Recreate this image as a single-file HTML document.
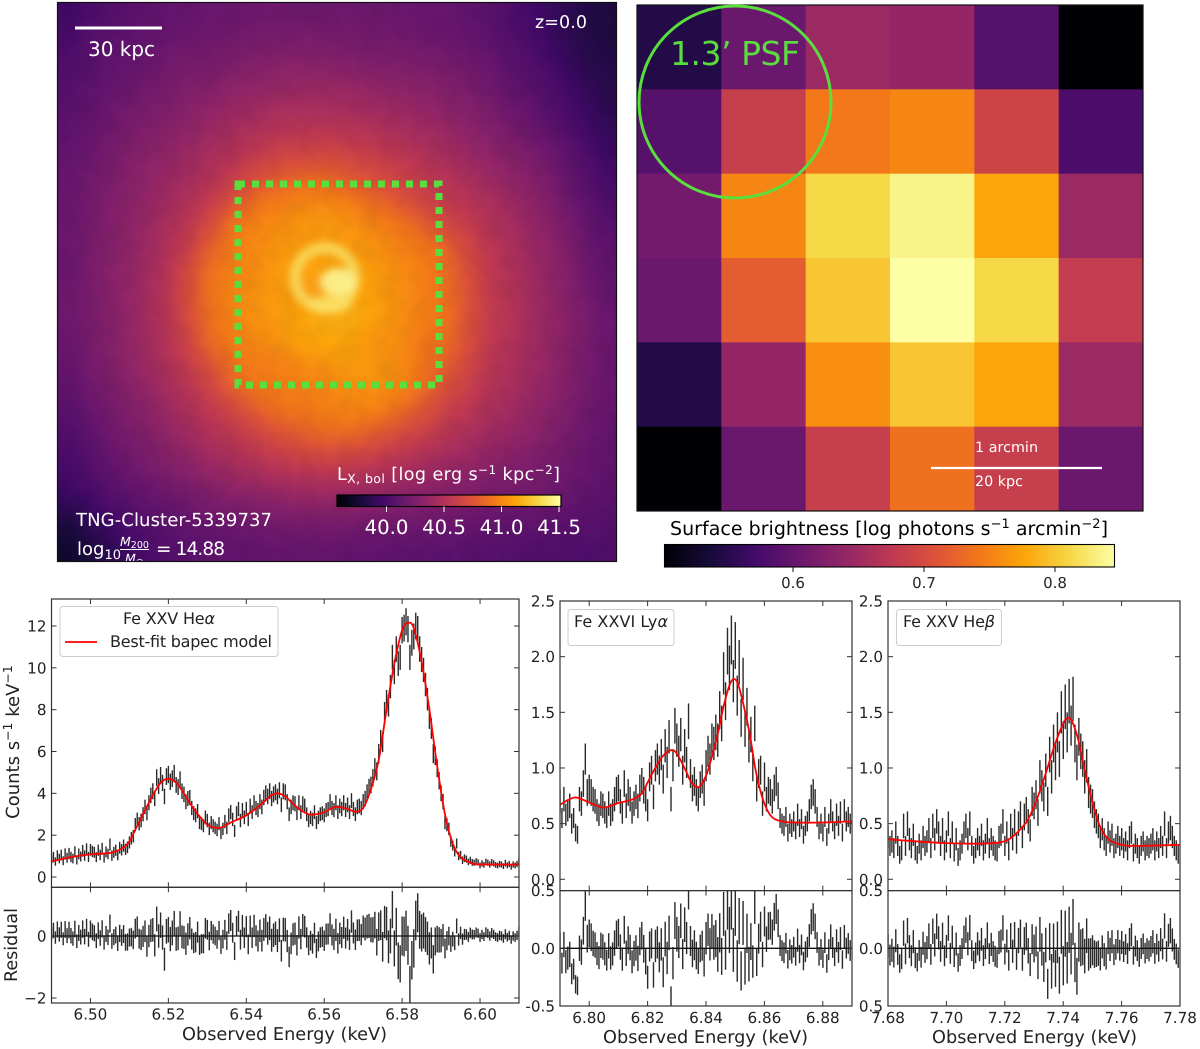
<!DOCTYPE html>
<html lang="en">
<head>
<meta charset="utf-8">
<title>TNG-Cluster X-ray maps and spectra</title>
<style>
html,body{margin:0;padding:0;background:#fff;}
#page{position:relative;width:1200px;height:1049px;overflow:hidden;background:#fff;font-family:"DejaVu Sans","Liberation Sans",sans-serif;}
#map-wrap{position:absolute;left:57px;top:2px;width:560px;height:560px;overflow:hidden;background:#6a176e;}
#map-canvas{position:absolute;left:-20px;top:-20px;width:600px;height:600px;filter:blur(5px);}
#overlay{position:absolute;left:0;top:0;}
text{font-family:"DejaVu Sans","Liberation Sans",sans-serif;text-rendering:geometricPrecision;}
</style>
</head>
<body>
<div id="page">
<div id="map-wrap"><canvas id="map-canvas" width="300" height="300"></canvas></div>
<svg id="overlay" width="1200" height="1049" viewBox="0 0 1200 1049" xmlns="http://www.w3.org/2000/svg">
<defs>
<filter id="soft" x="-30%" y="-30%" width="160%" height="160%"><feGaussianBlur stdDeviation="4"/></filter>
<filter id="mottle" x="0" y="0" width="100%" height="100%"><feTurbulence type="fractalNoise" baseFrequency="0.05" numOctaves="2" seed="4"/><feColorMatrix type="matrix" values="0 0 0 0 0  0 0 0 0 0  0 0 0 0 0  1.6 0 0 0 -0.55"/></filter>
<clipPath id="clip-map"><rect x="57" y="2" width="560" height="560"/></clipPath>
<linearGradient id="inferno-a" x1="0" x2="1" y1="0" y2="0"></linearGradient>
<linearGradient id="inferno-b" x1="0" x2="1" y1="0" y2="0"></linearGradient>
</defs>

<rect x="57" y="2" width="560" height="560" filter="url(#mottle)" opacity="0.06"/>
<g id="core" filter="url(#soft)">
<circle cx="325" cy="278" r="30" fill="none" stroke="#f8de60" stroke-width="11" opacity="0.85"/>
<ellipse cx="338" cy="282" rx="18" ry="14" fill="#fbf08e" opacity="0.95"/>
<ellipse cx="330" cy="304" rx="22" ry="9" fill="#f9e46c" opacity="0.75"/>
<ellipse cx="311" cy="283" rx="10" ry="14" fill="#f99f10" opacity="0.55"/>
</g>

<rect x="238" y="184" width="201" height="201" fill="none" stroke="#5ade3d" stroke-width="7" stroke-dasharray="7 7"/>
<line x1="75" y1="28" x2="162" y2="28" stroke="#fff" stroke-width="3"/>
<text x="88" y="56" fill="#fff" font-size="20" textLength="67">30 kpc</text>
<text x="535" y="28" fill="#fff" font-size="17.5" textLength="52">z=0.0</text>
<text x="76" y="526" fill="#fff" font-size="18" textLength="196">TNG-Cluster-5339737</text>
<g clip-path="url(#clip-map)" fill="#fff">
<text x="77" y="555" font-size="18">log<tspan font-size="13" dy="4">10</tspan></text>
<text x="120" y="546" font-size="12.5" font-style="italic">M<tspan font-size="9.5" font-style="normal" dy="2">200</tspan></text>
<line x1="120" y1="549.5" x2="149" y2="549.5" stroke="#fff" stroke-width="1"/>
<text x="125" y="563" font-size="12.5" font-style="italic">M<tspan font-size="9.5" font-style="normal" dy="2">⊙</tspan></text>
<text x="156" y="555" font-size="18.5" textLength="69">= 14.88</text>
</g>
<text x="337" y="480" fill="#fff" font-size="17.5" textLength="223">L<tspan font-size="12.5" dy="3">X, bol</tspan><tspan dy="-3"> [log  erg s</tspan><tspan font-size="12" dy="-6">−1</tspan><tspan dy="6"> kpc</tspan><tspan font-size="12" dy="-6">−2</tspan><tspan dy="6">]</tspan></text>
<rect x="337" y="495" width="224" height="11.5" fill="url(#inferno-a)" stroke="#000" stroke-width="1.2"/>
<rect x="57.5" y="2.5" width="559" height="559" fill="none" stroke="#111" stroke-width="1.2"/>

<g id="psf-map"></g>
<rect x="637" y="5" width="506" height="506" fill="none" stroke="#111" stroke-width="1.2"/>
<circle cx="735" cy="102" r="96" fill="none" stroke="#5ade3d" stroke-width="3"/>
<text x="670" y="65" fill="#5ade3d" font-size="33" textLength="130">1.3’ PSF</text>
<line x1="931" y1="468" x2="1102" y2="468" stroke="#fff" stroke-width="2.2"/>
<text x="975" y="452" fill="#fff" font-size="14.3" textLength="63">1 arcmin</text>
<text x="975" y="486" fill="#fff" font-size="14.3" textLength="48">20 kpc</text>
<text x="670" y="535" fill="#000" font-size="19" textLength="438">Surface brightness [log  photons s<tspan font-size="13" dy="-7">−1</tspan><tspan dy="7"> arcmin</tspan><tspan font-size="13" dy="-7">−2</tspan><tspan dy="7">]</tspan></text>
<rect x="664.5" y="544.5" width="450" height="22.5" fill="url(#inferno-b)" stroke="#000" stroke-width="1.1"/>

<g id="colorbar-ticks"></g>
<g id="spectra"></g>

<text transform="translate(19,742) rotate(-90)" text-anchor="middle" font-size="18" fill="#222">Counts s<tspan font-size="12.5" dy="-7">−1</tspan><tspan dy="7"> keV</tspan><tspan font-size="12.5" dy="-7">−1</tspan></text>
<text transform="translate(17,945) rotate(-90)" text-anchor="middle" font-size="17.5" fill="#222">Residual</text>
<text x="182" y="1040" font-size="17.7" fill="#222" textLength="205">Observed Energy (keV)</text>
<text x="603" y="1043" font-size="17.7" fill="#222" textLength="205">Observed Energy (keV)</text>
<text x="932" y="1043" font-size="17.7" fill="#222" textLength="205">Observed Energy (keV)</text>

<g>
<rect x="60" y="606.5" width="218" height="50" rx="3" fill="#fff" fill-opacity="0.85" stroke="#ccc"/>
<text x="123" y="624" font-size="16" fill="#222" textLength="92">Fe XXV He<tspan font-style="italic">α</tspan></text>
<line x1="65" y1="642" x2="97" y2="642" stroke="#f00" stroke-width="1.8"/>
<text x="110" y="647" font-size="16" fill="#222" textLength="162">Best-fit bapec model</text>
</g>
<g>
<rect x="568" y="609.5" width="106" height="36" rx="3" fill="#fff" fill-opacity="0.85" stroke="#ccc"/>
<text x="574" y="627" font-size="16" fill="#222" textLength="94">Fe XXVI Ly<tspan font-style="italic">α</tspan></text>
</g>
<g>
<rect x="896.5" y="609.5" width="105" height="36" rx="3" fill="#fff" fill-opacity="0.85" stroke="#ccc"/>
<text x="903" y="627" font-size="16" fill="#222" textLength="92">Fe XXV He<tspan font-style="italic">β</tspan></text>
</g>
</svg>
</div>

<script>
// ---------- colour map ----------
const infernoStops = ["#000004","#160b39","#420a68","#6a176e","#932667","#bc3754","#dd513a","#f37819","#fca50a","#f6d746","#fcffa4"];

// ---------- left map: percentage position on the colour scale, 24 x 24 ----------
const luminosityGrid = [
[20,23,25,27,28,29,30,30,31,31,31,31,31,31,30,30,29,28,26,23,20,17,13,12],
[22,25,27,28,29,31,31,32,33,33,34,33,33,32,32,31,30,29,27,24,21,17,14,12],
[23,26,28,29,31,33,33,35,36,37,37,37,36,35,35,34,33,31,29,26,23,19,15,13],
[25,27,29,31,33,35,36,38,39,40,41,41,40,39,38,37,36,34,31,28,25,22,17,14],
[26,28,31,33,35,37,39,41,43,45,45,45,45,43,42,40,38,36,34,30,27,23,19,15],
[27,30,32,35,37,39,42,45,47,49,50,50,49,48,46,44,42,39,36,33,30,26,21,17],
[28,31,34,37,39,42,45,48,52,55,56,57,55,53,51,48,45,42,39,36,33,29,24,19],
[29,32,35,38,41,44,48,53,59,63,66,66,62,59,55,52,49,46,42,39,36,31,26,21],
[30,33,36,39,43,47,52,60,68,71,73,73,71,67,62,57,52,49,46,42,38,33,28,23],
[30,33,37,40,45,50,58,69,73,75,77,78,76,73,70,65,58,53,48,44,40,35,30,25],
[30,34,37,41,46,53,64,71,74,77,78,78,78,76,73,71,66,57,50,46,41,37,31,27],
[30,34,38,42,47,57,68,72,75,78,80,80,80,78,75,72,68,60,51,47,42,38,32,28],
[31,34,38,42,48,58,69,73,76,78,78,78,80,79,76,72,69,61,52,48,43,38,33,29],
[31,34,38,42,48,57,68,73,76,78,80,82,82,79,76,72,69,61,52,48,43,39,34,30],
[30,34,37,42,47,55,66,71,74,76,80,80,80,76,75,71,68,60,51,47,43,38,34,30],
[29,33,37,41,46,52,60,69,71,72,74,76,78,77,75,70,65,57,50,46,42,38,33,30],
[28,32,35,39,44,49,55,64,70,71,72,73,75,76,74,68,60,54,48,45,41,37,33,30],
[26,30,34,37,41,46,51,56,63,68,70,72,73,72,68,62,55,50,46,43,39,36,32,29],
[24,28,32,35,39,43,47,51,55,60,63,66,66,63,58,54,50,46,43,40,38,34,31,28],
[22,26,30,33,36,39,43,46,49,52,55,56,55,53,50,47,44,42,39,37,35,33,30,28],
[20,24,27,30,33,35,38,41,43,45,46,47,46,45,43,41,39,37,35,34,33,31,29,27],
[16,20,24,27,29,31,33,35,36,37,39,39,38,37,36,35,34,33,31,31,30,29,27,26],
[11,16,20,24,26,28,29,30,31,32,32,32,32,31,31,30,30,29,28,27,27,26,25,25],
[8,12,17,21,24,26,27,28,28,29,29,29,28,28,27,27,26,26,25,25,24,24,23,24]
];

// ---------- right map: log surface brightness, 6 x 6 ----------
const brightnessGrid = [
[0.546,0.605,0.646,0.640,0.588,0.502],
[0.588,0.684,0.743,0.753,0.691,0.578],
[0.612,0.753,0.812,0.836,0.777,0.646],
[0.605,0.719,0.800,0.846,0.812,0.681],
[0.546,0.640,0.760,0.800,0.777,0.646],
[0.502,0.605,0.684,0.736,0.684,0.605]
];
const brightnessDomain = [0.5015,0.846];
const brightnessTicks = [0.6,0.7,0.8];
const luminosityTicks = [40.0,40.5,41.0,41.5];

// ---------- Fe XXV He-alpha ----------
const heAlphaBin = {start:6.49,width:0.0005};
const heAlphaCounts = [
.82,.95,.74,1.02,.88,1.05,.78,1.1,.92,1.12,
.96,.88,1.2,.82,1.1,.98,1.25,1.02,1.33,.96,
1.3,1.22,1.18,.95,1.28,1.05,1.35,.92,1.2,1.1,
1.55,1.02,1.18,1.28,1.05,1.4,1.3,1.5,1.32,1.42,
1.65,1.85,1.95,2.5,2.75,2.55,2.7,3.0,3.35,3.05,
3.55,3.9,4.1,3.75,4.75,4.35,4.85,4.5,3.85,4.8,
4.9,4.55,4.7,4.95,4.4,4.3,4.65,4.1,3.95,3.6,
3.75,3.8,3.3,3.05,2.95,3.15,2.6,2.55,2.45,2.85,
2.7,2.3,2.6,2.45,2.35,2.25,2.55,2.1,2.3,2.65,
2.35,2.95,3.1,2.75,2.2,3.05,3.25,2.7,3.2,2.85,
3.25,2.75,3.4,3.1,3.55,3.3,3.2,3.6,3.35,3.8,
4.0,3.85,4.1,3.75,3.95,4.05,3.85,4.15,3.45,4.1,
4.05,3.6,3.0,3.35,3.55,3.5,3.05,3.55,3.1,3.5,
3.4,3.0,2.7,2.85,2.75,3.1,2.6,2.85,3.0,3.05,
2.95,3.2,3.25,3.6,3.3,3.2,3.55,3.1,3.4,3.25,
3.55,3.2,3.45,3.1,3.65,3.25,3.0,3.35,3.4,3.3,
3.6,3.75,4.05,4.3,4.4,4.75,5.25,5.05,5.9,6.55,
6.45,7.85,8.4,8.2,9.1,10.5,9.8,10.9,10.2,10.5,
11.8,11.9,12.2,11.85,10.5,11.2,11.5,12.0,11.85,10.9,
10.4,9.9,9.2,8.5,7.6,7.1,5.9,5.8,5.2,4.6,
4.0,3.6,2.6,2.5,2.3,1.7,1.5,1.2,1.6,1.0,
1.05,.8,.9,.85,.72,.8,.7,.68,.74,.7,
.55,.65,.58,.72,.68,.6,.7,.65,.58,.55,
.62,.6,.52,.66,.56,.62,.48,.6,.55,.62,.75
];
const heAlphaErrors = [
.22,.25,.2,.26,.23,.26,.21,.27,.24,.27,
.25,.23,.27,.22,.26,.24,.28,.25,.28,.24,
.28,.27,.26,.24,.27,.25,.28,.23,.26,.25,
.29,.25,.26,.27,.25,.28,.27,.29,.27,.28,
.29,.3,.3,.32,.33,.32,.33,.34,.35,.34,
.36,.37,.38,.36,.4,.38,.41,.39,.37,.4,
.41,.39,.4,.41,.38,.38,.4,.37,.37,.36,
.36,.36,.34,.33,.33,.34,.31,.31,.31,.33,
.32,.3,.31,.31,.3,.3,.31,.29,.3,.32,
.3,.33,.34,.32,.29,.33,.34,.32,.34,.33,
.34,.32,.35,.33,.36,.34,.34,.36,.35,.37,
.38,.37,.38,.37,.38,.38,.37,.38,.35,.38,
.38,.36,.33,.35,.36,.36,.33,.36,.33,.36,
.35,.33,.32,.32,.32,.33,.31,.32,.33,.33,
.33,.34,.34,.36,.34,.34,.36,.33,.35,.34,
.36,.34,.35,.33,.36,.34,.33,.35,.35,.34,
.36,.37,.38,.39,.4,.41,.43,.43,.46,.48,
.48,.52,.54,.53,.56,.6,.58,.61,.59,.6,
.63,.64,.65,.63,.6,.62,.62,.64,.63,.61,
.6,.58,.56,.54,.52,.5,.46,.45,.43,.41,
.38,.36,.32,.31,.3,.26,.24,.22,.24,.2,
.2,.18,.18,.17,.16,.17,.16,.15,.16,.15,
.14,.15,.14,.16,.15,.15,.16,.15,.14,.14,
.15,.15,.14,.16,.14,.15,.13,.15,.14,.15,.17
];
const heAlphaModelEnergy = [6.49,6.495,6.5,6.505,6.508,6.51,6.512,6.514,6.516,6.518,6.52,6.522,6.524,6.526,6.528,6.53,6.532,6.534,6.536,6.54,6.544,6.546,6.548,6.55,6.552,6.554,6.556,6.558,6.56,6.563,6.566,6.568,6.57,6.572,6.574,6.576,6.578,6.58,6.5815,6.583,6.585,6.587,6.589,6.591,6.593,6.595,6.598,6.6,6.61];
const heAlphaModelCounts = [.75,.95,1.08,1.15,1.35,1.7,2.45,3.2,3.9,4.5,4.7,4.5,4.0,3.4,2.9,2.5,2.35,2.4,2.6,2.95,3.5,3.85,4.0,3.85,3.5,3.2,3.0,3.0,3.1,3.35,3.25,3.12,3.3,4.2,5.6,8.0,10.2,11.8,12.15,11.9,10.3,8.0,5.3,3.0,1.6,.95,.65,.6,.6];
const heAlphaEnergyTicks = [6.50,6.52,6.54,6.56,6.58,6.60];
const heAlphaEnergyLabels = ["6.50","6.52","6.54","6.56","6.58","6.60"];
const heAlphaCountTicks = [0,2,4,6,8,10,12];
const heAlphaCountLabels = ["0","2","4","6","8","10","12"];
const heAlphaResidualTicks = [-2,0];
const heAlphaResidualLabels = ["−2","0"];

// ---------- Fe XXVI Ly-alpha ----------
const lyAlphaBin = {start:6.79,width:0.000667};
const lyAlphaCounts = [
.70,.55,.72,.58,.62,.66,.50,.55,.42,.40,.72,.68,.86,1.08,.78,
.82,.78,.72,.70,.62,.58,.68,.66,.60,.55,.68,.58,.62,.72,.80,
.82,.70,.60,.86,.66,.78,.72,.60,.68,.74,.66,.82,.88,.80,.72,
.62,.92,.98,.74,1.02,1.08,.98,1.12,.90,1.20,1.05,1.28,.72,1.02,1.38,
1.25,1.15,1.30,.98,1.20,1.05,1.42,.95,.82,.88,.78,.72,.85,.90,.78,
1.02,1.15,1.08,1.25,1.22,1.32,1.25,1.52,1.40,1.85,1.60,2.05,1.90,2.15,1.78,
2.10,1.65,1.95,1.45,1.80,1.35,1.55,1.20,1.30,1.02,1.40,.82,.95,.98,.68,
.92,.72,.80,.78,.70,.82,.88,.75,.55,.50,.48,.56,.42,.50,.46,
.52,.44,.58,.46,.54,.40,.48,.52,.62,.74,.78,.70,.56,.44,.50,
.42,.56,.38,.50,.62,.52,.44,.58,.48,.60,.42,.62,.52,.56,.50,.54
];
const lyAlphaErrors = [
.11,.09,.11,.1,.1,.11,.09,.09,.08,.08,.11,.11,.12,.14,.12,
.12,.12,.11,.11,.1,.1,.11,.11,.1,.09,.11,.1,.1,.11,.12,
.12,.11,.1,.12,.11,.12,.11,.1,.11,.11,.11,.12,.12,.12,.11,
.1,.13,.13,.11,.14,.14,.13,.14,.13,.15,.14,.15,.11,.14,.16,
.15,.14,.15,.13,.15,.14,.16,.13,.12,.13,.12,.11,.12,.13,.12,
.14,.14,.14,.15,.15,.16,.15,.17,.16,.19,.17,.21,.2,.22,.19,
.21,.18,.2,.17,.19,.16,.17,.15,.16,.14,.16,.12,.13,.13,.11,
.13,.11,.12,.12,.11,.12,.13,.12,.09,.09,.09,.09,.08,.09,.08,
.09,.08,.1,.08,.09,.08,.09,.09,.1,.11,.12,.11,.09,.08,.09,
.08,.09,.08,.09,.1,.09,.08,.1,.09,.1,.08,.1,.09,.09,.09,.09
];
const lyAlphaModelEnergy = [6.79,6.795,6.8,6.805,6.81,6.815,6.818,6.82,6.822,6.825,6.828,6.83,6.833,6.835,6.8375,6.84,6.842,6.844,6.846,6.848,6.8495,6.851,6.853,6.855,6.857,6.859,6.861,6.863,6.866,6.87,6.88,6.89];
const lyAlphaModelCounts = [.67,.735,.69,.645,.685,.72,.77,.87,.97,1.10,1.16,1.13,.98,.87,.83,.93,1.1,1.3,1.55,1.74,1.80,1.75,1.55,1.3,.98,.76,.62,.55,.52,.51,.51,.52];
const lyAlphaEnergyTicks = [6.80,6.82,6.84,6.86,6.88];
const lyAlphaEnergyLabels = ["6.80","6.82","6.84","6.86","6.88"];
const lyAlphaCountTicks = [0,.5,1,1.5,2,2.5];
const lyAlphaCountLabels = ["0.0","0.5","1.0","1.5","2.0","2.5"];
const lyAlphaResidualTicks = [-.5,0,.5];
const lyAlphaResidualLabels = ["-0.5","0.0","0.5"];

// ---------- Fe XXV He-beta ----------
const heBetaBin = {start:7.68,width:0.000667};
const heBetaCounts = [
.38,.30,.34,.28,.42,.30,.22,.26,.48,.30,.50,.36,.28,.40,.26,
.22,.32,.26,.38,.30,.34,.44,.28,.48,.36,.52,.42,.30,.44,.26,
.34,.50,.28,.42,.24,.36,.20,.26,.32,.42,.48,.36,.50,.30,.22,
.28,.36,.30,.40,.26,.32,.44,.28,.36,.30,.26,.24,.38,.40,.52,
.30,.42,.26,.48,.36,.52,.32,.50,.58,.38,.56,.62,.52,.44,.70,
.66,.76,.60,.92,.84,.74,.98,.70,1.12,.92,1.22,1.05,1.32,1.08,1.50,
1.25,1.55,1.32,1.60,1.38,1.62,1.22,1.05,1.28,1.15,1.08,.92,1.02,.78,.72,
.68,.58,.52,.48,.38,.45,.36,.30,.42,.34,.40,.28,.32,.38,.30,
.36,.28,.34,.26,.38,.42,.24,.32,.28,.22,.30,.34,.26,.30,.28,
.32,.36,.26,.34,.28,.38,.30,.50,.28,.42,.46,.38,.30,.26,.22,.20
];
const heBetaErrors = [
.1,.09,.1,.09,.1,.09,.08,.09,.11,.09,.11,.1,.09,.1,.09,
.08,.09,.09,.1,.09,.1,.11,.09,.11,.1,.11,.1,.09,.11,.09,
.1,.11,.09,.1,.08,.1,.08,.09,.09,.1,.11,.1,.11,.09,.08,
.09,.1,.09,.1,.09,.09,.11,.09,.1,.09,.09,.08,.1,.1,.11,
.09,.1,.09,.11,.1,.11,.09,.11,.12,.1,.12,.12,.11,.1,.13,
.12,.13,.12,.15,.14,.13,.15,.13,.16,.15,.17,.16,.18,.16,.19,
.17,.2,.18,.2,.18,.2,.17,.16,.17,.16,.16,.15,.15,.14,.13,
.13,.12,.11,.11,.1,.1,.1,.09,.1,.1,.1,.09,.09,.1,.09,
.1,.09,.09,.09,.1,.1,.08,.09,.09,.08,.09,.09,.09,.09,.09,
.09,.1,.09,.09,.09,.1,.09,.11,.09,.1,.11,.1,.09,.09,.08,.08
];
const heBetaModelEnergy = [7.68,7.685,7.69,7.70,7.71,7.718,7.722,7.725,7.728,7.731,7.734,7.737,7.74,7.7415,7.743,7.745,7.747,7.749,7.751,7.753,7.756,7.76,7.765,7.78];
const heBetaModelCounts = [.36,.35,.34,.325,.32,.33,.37,.44,.54,.72,.95,1.2,1.4,1.45,1.42,1.27,1.03,.8,.6,.45,.35,.31,.3,.31];
const heBetaEnergyTicks = [7.68,7.70,7.72,7.74,7.76,7.78];
const heBetaEnergyLabels = ["7.68","7.70","7.72","7.74","7.76","7.78"];
const heBetaCountTicks = [0,.5,1,1.5,2,2.5];
const heBetaCountLabels = ["0.0","0.5","1.0","1.5","2.0","2.5"];
const heBetaResidualTicks = [-.5,0,.5];
const heBetaResidualLabels = ["0.5","0.0","0.5"];

// ---------- helpers ----------
const SVGNS = "http://www.w3.org/2000/svg";
function linear(d0,d1,r0,r1){return function(v){return r0+(v-d0)*(r1-r0)/(d1-d0);};}
function hexRgb(h){return [parseInt(h.slice(1,3),16),parseInt(h.slice(3,5),16),parseInt(h.slice(5,7),16)];}
function inferno(t){
  t=Math.max(0,Math.min(1,t));
  const p=t*(infernoStops.length-1),i=Math.min(infernoStops.length-2,Math.floor(p)),f=p-i;
  const a=hexRgb(infernoStops[i]),b=hexRgb(infernoStops[i+1]);
  return [0,1,2].map(function(k){return Math.round(a[k]+(b[k]-a[k])*f);});
}
function rgb(c){return "rgb("+c[0]+","+c[1]+","+c[2]+")";}
function make(tag,parent){const el=document.createElementNS(SVGNS,tag);parent.appendChild(el);return el;}
function interp(xs,ys,x){
  if(x<=xs[0])return ys[0];
  for(let i=1;i<xs.length;i++){if(x<=xs[i]){const f=(x-xs[i-1])/(xs[i]-xs[i-1]);return ys[i-1]+(ys[i]-ys[i-1])*f;}}
  return ys[ys.length-1];
}

// ---------- colourbar gradients ----------
["inferno-a","inferno-b"].forEach(function(id){
  const g=document.getElementById(id);
  infernoStops.forEach(function(c,i){
    const s=document.createElementNS(SVGNS,"stop");
    s.setAttribute("offset",(i/(infernoStops.length-1)*100)+"%");
    s.setAttribute("stop-color",c);
    g.appendChild(s);
  });
});

// ---------- left map ----------
(function(){
  const cv=document.getElementById("map-canvas"),ctx=cv.getContext("2d");
  const size=cv.width,img=ctx.createImageData(size,size),n=luminosityGrid.length;
  const inner=280,offset=(size-inner)/2;
  for(let y=0;y<size;y++){for(let x=0;x<size;x++){
    const gx=Math.max(0,Math.min(n-1.001,(x-offset)/inner*n-.5));
    const gy=Math.max(0,Math.min(n-1.001,(y-offset)/inner*n-.5));
    const i=Math.floor(gx),j=Math.floor(gy),fx=gx-i,fy=gy-j;
    const v=(luminosityGrid[j][i]*(1-fx)+luminosityGrid[j][i+1]*fx)*(1-fy)+(luminosityGrid[j+1][i]*(1-fx)+luminosityGrid[j+1][i+1]*fx)*fy;
    const c=inferno(v/100),k=(y*size+x)*4;
    img.data[k]=c[0];img.data[k+1]=c[1];img.data[k+2]=c[2];img.data[k+3]=255;
  }}
  ctx.putImageData(img,0,0);
})();

// ---------- right map ----------
(function(){
  const g=document.getElementById("psf-map");
  const colX=linear(0,6,637,1143),rowY=linear(0,6,5,511);
  const toT=linear(brightnessDomain[0],brightnessDomain[1],0,1);
  brightnessGrid.forEach(function(row,r){
    row.forEach(function(v,c){
      const cell=make("rect",g);
      cell.setAttribute("x",colX(c));
      cell.setAttribute("y",rowY(r));
      cell.setAttribute("width",colX(c+1)-colX(c)+.3);
      cell.setAttribute("height",rowY(r+1)-rowY(r)+.3);
      cell.setAttribute("fill",rgb(inferno(toT(v))));
      
      
    });
  });
})();

// ---------- colourbar ticks ----------
(function(){
  const g=document.getElementById("colorbar-ticks");
  const ax=linear(40,41.5,386.5,559),bx=linear(.6,.8,793,1055);
  luminosityTicks.forEach(function(v){
    const t=make("line",g);
    t.setAttribute("x1",ax(v));t.setAttribute("x2",ax(v));t.setAttribute("y1",506.5);t.setAttribute("y2",512);
    t.setAttribute("stroke","#fff");t.setAttribute("stroke-width",1);
    
    
    const l=make("text",g);
    l.setAttribute("x",ax(v));l.setAttribute("y",534);l.setAttribute("text-anchor","middle");
    l.setAttribute("font-size",19.7);l.setAttribute("fill","#fff");
    l.textContent=v.toFixed(1);
    
    
  });
  brightnessTicks.forEach(function(v){
    const t=make("line",g);
    t.setAttribute("x1",bx(v));t.setAttribute("x2",bx(v));t.setAttribute("y1",567);t.setAttribute("y2",572);
    t.setAttribute("stroke","#111");t.setAttribute("stroke-width",1);
    
    
    const l=make("text",g);
    l.setAttribute("x",bx(v));l.setAttribute("y",588);l.setAttribute("text-anchor","middle");
    l.setAttribute("font-size",15);l.setAttribute("fill","#222");
    l.textContent=v.toFixed(1);
    
    
  });
})();

// ---------- spectra ----------
function drawSpectrum(cfg){
  const root=make("g",document.getElementById("spectra"));
  
  
  const x=linear(cfg.xDomain[0],cfg.xDomain[1],cfg.left,cfg.right);
  const y=linear(cfg.yAnchor[0],cfg.yAnchor[1],cfg.yAnchorPx[0],cfg.yAnchorPx[1]);
  const r=linear(cfg.rAnchor[0],cfg.rAnchor[1],cfg.rAnchorPx[0],cfg.rAnchorPx[1]);
  const defs=make("defs",root);
  [["main",cfg.top,cfg.mid],["res",cfg.mid,cfg.bottom]].forEach(function(c){
    const cp=make("clipPath",defs);
    cp.setAttribute("id",cfg.id+"-clip-"+c[0]);
    const re=make("rect",cp);
    re.setAttribute("x",cfg.left);re.setAttribute("y",c[1]);
    re.setAttribute("width",cfg.right-cfg.left);re.setAttribute("height",c[2]-c[1]);
  });
  const mainG=make("g",root);
  mainG.setAttribute("clip-path","url(#"+cfg.id+"-clip-main)");
  
  
  const resG=make("g",root);
  resG.setAttribute("clip-path","url(#"+cfg.id+"-clip-res)");
  
  

  cfg.counts.forEach(function(v,i){
    const e=cfg.bin.start+i*cfg.bin.width,err=cfg.errors[i];
    const bar=make("line",mainG);
    bar.setAttribute("x1",x(e));bar.setAttribute("x2",x(e));
    bar.setAttribute("y1",y(v-err));bar.setAttribute("y2",y(v+err));
    bar.setAttribute("stroke","#2a2a2a");bar.setAttribute("stroke-width",1.4);
    
    
    const res=v-interp(cfg.modelE,cfg.modelC,e);
    const rb=make("line",resG);
    rb.setAttribute("x1",x(e));rb.setAttribute("x2",x(e));
    rb.setAttribute("y1",r(res-err));rb.setAttribute("y2",r(res+err));
    rb.setAttribute("stroke","#2a2a2a");rb.setAttribute("stroke-width",1.4);
    
    
  });

  // model curve
  const px=cfg.modelE.map(function(e){return x(e);}),py=cfg.modelC.map(function(c){return y(c);});
  let d="M"+px[0]+" "+py[0];
  for(let i=0;i<px.length-1;i++){
    const a=Math.max(0,i-1),b=Math.min(px.length-1,i+2);
    const c1x=px[i]+(px[i+1]-px[a])/6,c1y=py[i]+(py[i+1]-py[a])/6;
    const c2x=px[i+1]-(px[b]-px[i])/6,c2y=py[i+1]-(py[b]-py[i])/6;
    d+=" C"+c1x+" "+c1y+" "+c2x+" "+c2y+" "+px[i+1]+" "+py[i+1];
  }
  const curve=make("path",mainG);
  curve.setAttribute("d",d);curve.setAttribute("fill","none");
  curve.setAttribute("stroke","#f00");curve.setAttribute("stroke-width",1.8);
  
  

  // zero line
  const zero=make("line",root);
  zero.setAttribute("x1",cfg.left);zero.setAttribute("x2",cfg.right);
  zero.setAttribute("y1",r(0));zero.setAttribute("y2",r(0));
  zero.setAttribute("stroke","#111");zero.setAttribute("stroke-width",1.3);
  
  

  // frames
  [[cfg.top,cfg.mid],[cfg.mid,cfg.bottom]].forEach(function(f){
    const fr=make("rect",root);
    fr.setAttribute("x",cfg.left);fr.setAttribute("y",f[0]);
    fr.setAttribute("width",cfg.right-cfg.left);fr.setAttribute("height",f[1]-f[0]);
    fr.setAttribute("fill","none");fr.setAttribute("stroke","#333");fr.setAttribute("stroke-width",1.2);
    
    
  });

  // x ticks
  cfg.xTicks.forEach(function(v,i){
    [[cfg.top,cfg.top+5],[cfg.mid-5,cfg.mid],[cfg.mid,cfg.mid+5],[cfg.bottom-5,cfg.bottom]].forEach(function(s){
      const t=make("line",root);
      t.setAttribute("x1",x(v));t.setAttribute("x2",x(v));t.setAttribute("y1",s[0]);t.setAttribute("y2",s[1]);
      t.setAttribute("stroke","#333");t.setAttribute("stroke-width",1);
      
      
    });
    const l=make("text",root);
    l.setAttribute("x",x(v));l.setAttribute("y",cfg.bottom+cfg.xLabelGap);l.setAttribute("text-anchor","middle");
    l.setAttribute("font-size",15.2);l.setAttribute("fill","#222");
    l.textContent=cfg.xLabels[i];
    
    
  });

  // y ticks
  function yTicks(vals,labels,scale){
    vals.forEach(function(v,i){
      [[cfg.left,cfg.left+5],[cfg.right-5,cfg.right]].forEach(function(s){
        const t=make("line",root);
        t.setAttribute("x1",s[0]);t.setAttribute("x2",s[1]);t.setAttribute("y1",scale(v));t.setAttribute("y2",scale(v));
        t.setAttribute("stroke","#333");t.setAttribute("stroke-width",1);
        
        
      });
      const l=make("text",root);
      l.setAttribute("x",cfg.left-5);l.setAttribute("y",scale(v)+5.5);l.setAttribute("text-anchor","end");
      l.setAttribute("font-size",15.2);l.setAttribute("fill","#222");
      l.textContent=labels[i];
      
      
    });
  }
  yTicks(cfg.yTicks,cfg.yLabels,y);
  yTicks(cfg.rTicks,cfg.rLabels,r);
}

drawSpectrum({id:"he-alpha",left:51.5,right:519,top:599,mid:887.3,bottom:1003,xLabelGap:16.5,
  xDomain:[6.49,6.61],yAnchor:[0,12],yAnchorPx:[877,626],rAnchor:[0,-2],rAnchorPx:[936,998],
  bin:heAlphaBin,counts:heAlphaCounts,errors:heAlphaErrors,modelE:heAlphaModelEnergy,modelC:heAlphaModelCounts,
  xTicks:heAlphaEnergyTicks,xLabels:heAlphaEnergyLabels,yTicks:heAlphaCountTicks,yLabels:heAlphaCountLabels,
  rTicks:heAlphaResidualTicks,rLabels:heAlphaResidualLabels});
drawSpectrum({id:"ly-alpha",left:560,right:852,top:601,mid:890.6,bottom:1006,xLabelGap:17,
  xDomain:[6.79,6.89],yAnchor:[0,2.5],yAnchorPx:[879.3,601],rAnchor:[-.5,.5],rAnchorPx:[1006,890.6],
  bin:lyAlphaBin,counts:lyAlphaCounts,errors:lyAlphaErrors,modelE:lyAlphaModelEnergy,modelC:lyAlphaModelCounts,
  xTicks:lyAlphaEnergyTicks,xLabels:lyAlphaEnergyLabels,yTicks:lyAlphaCountTicks,yLabels:lyAlphaCountLabels,
  rTicks:lyAlphaResidualTicks,rLabels:lyAlphaResidualLabels});
drawSpectrum({id:"he-beta",left:888,right:1180,top:601,mid:890.6,bottom:1006,xLabelGap:17,
  xDomain:[7.68,7.78],yAnchor:[0,2.5],yAnchorPx:[879.3,601],rAnchor:[-.5,.5],rAnchorPx:[1006,890.6],
  bin:heBetaBin,counts:heBetaCounts,errors:heBetaErrors,modelE:heBetaModelEnergy,modelC:heBetaModelCounts,
  xTicks:heBetaEnergyTicks,xLabels:heBetaEnergyLabels,yTicks:heBetaCountTicks,yLabels:heBetaCountLabels,
  rTicks:heBetaResidualTicks,rLabels:heBetaResidualLabels});
</script>
</body>
</html>
